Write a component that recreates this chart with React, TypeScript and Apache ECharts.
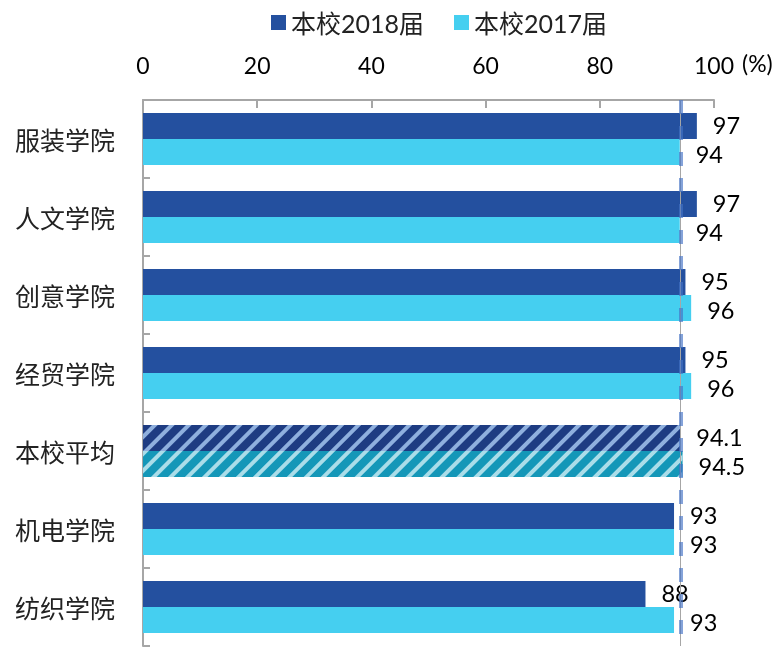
import React, { useEffect, useRef } from "react";
import * as echarts from "echarts";

const categories = ["服装学院", "人文学院", "创意学院", "经贸学院", "本校平均", "机电学院", "纺织学院"];
const seriesNames = ["本校2018届", "本校2017届"];
const values2018 = [97, 97, 95, 95, 94.1, 93, 88];
const values2017 = [94, 94, 96, 96, 94.5, 93, 93];
const xTicks = [0, 20, 40, 60, 80, 100];
const avgIndex = 4;

const DARK = "#24509f";
const LIGHT = "#45cff0";
const NUM_FONT = "Lato, 'Noto Sans CJK SC', sans-serif";
const CJK_FONT = "'Noto Sans CJK SC', sans-serif";

function buildData(values: number[], base: string, avgBase: string, stripe: string) {
  return values.map((v, i) =>
    i === avgIndex
      ? {
          value: v,
          itemStyle: {
            color: avgBase,
            decal: {
              symbol: "rect",
              symbolSize: 1,
              color: stripe,
              dashArrayX: [1, 0],
              dashArrayY: [4, 8],
              rotation: -Math.PI / 4,
            },
          },
        }
      : { value: v, itemStyle: { color: base } }
  );
}

function makeLabel(dy: number) {
  return {
    show: true,
    position: "right" as const,
    distance: 16,
    offset: [0, dy],
    fontSize: 23.5,
    lineHeight: 23,
    fontFamily: NUM_FONT,
    color: "#000",
    formatter: (p: any) => String(p.value),
  };
}

export default function App() {
  const ref = useRef<HTMLDivElement>(null);
  useEffect(() => {
    if (!ref.current) return;
    const chart = echarts.init(ref.current, null, { renderer: "svg" });
    const avg = values2018[avgIndex];
    chart.setOption({
      animation: false,
      legend: {
        data: seriesNames,
        left: 266,
        top: 5,
        icon: "rect",
        itemWidth: 15,
        itemHeight: 15,
        itemGap: 30,
        textStyle: { fontSize: 25, fontFamily: NUM_FONT, color: "#222" },
      },
      grid: { left: 143, right: 69, top: 100, bottom: 1, containLabel: false },
      xAxis: {
        type: "value",
        position: "top",
        min: xTicks[0],
        max: xTicks[xTicks.length - 1],
        interval: 20,
        splitLine: { show: false },
        axisLine: { show: true, lineStyle: { color: "#a6a6a6", width: 2 } },
        axisTick: { show: true, inside: true, length: 8, lineStyle: { color: "#a6a6a6", width: 2 } },
        axisLabel: { fontSize: 23, fontFamily: NUM_FONT, color: "#000", margin: 24 },
      },
      yAxis: {
        type: "category",
        inverse: true,
        data: categories,
        axisLine: { show: true, lineStyle: { color: "#a6a6a6", width: 2 } },
        axisTick: { show: true, inside: true, length: 7, lineStyle: { color: "#a6a6a6", width: 2 } },
        axisLabel: { fontSize: 25, fontFamily: CJK_FONT, color: "#222", margin: 28 },
      },
      graphic: [
        {
          type: "text",
          left: 742,
          top: 51,
          style: { text: "(%)", fontSize: 23, fontFamily: NUM_FONT, fill: "#000" },
        },
      ],
      series: [
        {
          name: seriesNames[0],
          type: "bar",
          barWidth: 26,
          barGap: "0%",
          itemStyle: { color: DARK },
          data: buildData(values2018, DARK, "#1e3c82", "#8fb0de"),
          label: makeLabel(-1),
          markLine: {
            silent: true,
            symbol: ["none", "none"],
            label: { show: false },
            lineStyle: { color: "#a6a6a6", width: 1, type: "solid" },
            data: [{ xAxis: avg }],
          },
        },
        {
          name: seriesNames[1],
          type: "bar",
          barWidth: 26,
          barGap: "0%",
          itemStyle: { color: LIGHT },
          data: buildData(values2017, LIGHT, "#1497b8", "#aadde9"),
          label: makeLabel(2),
          markLine: {
            silent: true,
            symbol: ["none", "none"],
            label: { show: false },
            lineStyle: { color: "rgba(68,114,196,0.65)", width: 4, type: [14, 12] },
            data: [{ xAxis: avg }],
          },
        },
      ],
    });
    return () => chart.dispose();
  }, []);
  return <div ref={ref} style={{ position: "fixed", left: 0, top: 0, width: 783, height: 647 }} />;
}
